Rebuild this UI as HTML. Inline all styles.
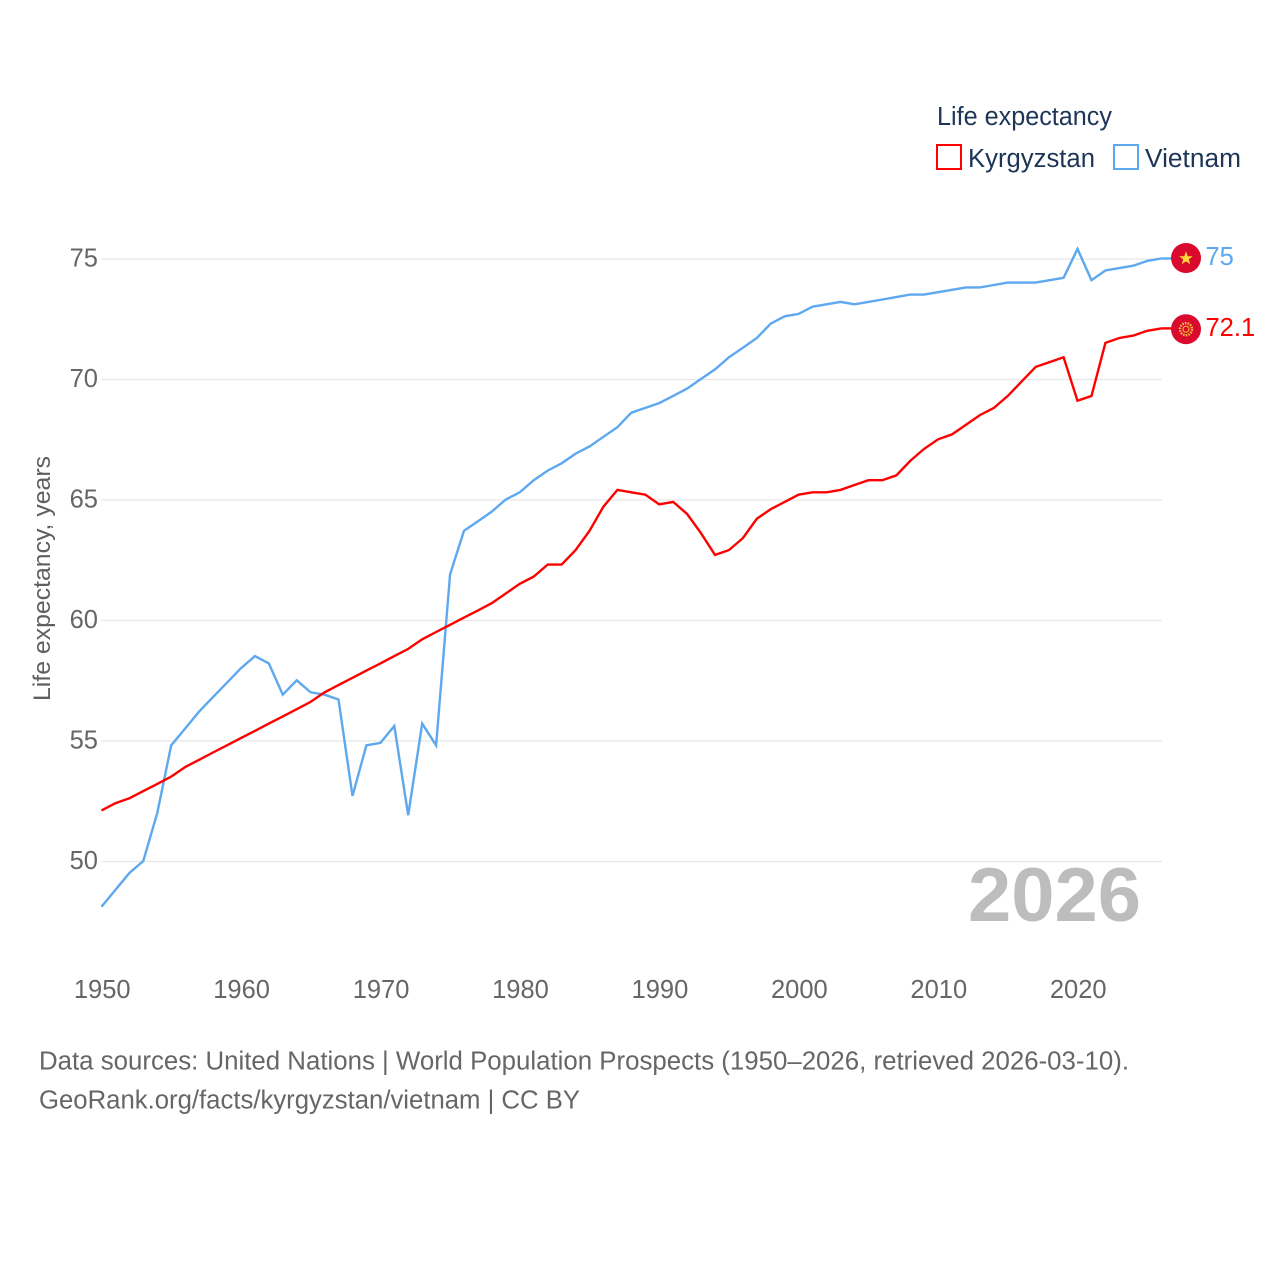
<!DOCTYPE html>
<html lang="en">
<head>
<meta charset="utf-8">
<title>Life expectancy: Kyrgyzstan and Vietnam</title>
<style>
html,body{margin:0;padding:0;background:#fff;width:1280px;height:1280px;overflow:hidden}
svg{display:block}
text{font-family:"Liberation Sans",sans-serif}
</style>
</head>
<body>
<svg id="chart" xmlns="http://www.w3.org/2000/svg" width="1280" height="1280" viewBox="0 0 1280 1280">
  <rect width="1280" height="1280" fill="#ffffff"/>
  <g id="grid"></g>
  <g id="yticks"></g>
  <g id="xticks"></g>
  <text x="968" y="921" font-size="76" font-weight="700" fill="#bdbdbd" textLength="173" lengthAdjust="spacingAndGlyphs">2026</text>
  <text transform="translate(50 701) rotate(-90)" font-size="24" fill="#5f5f5f" textLength="245" lengthAdjust="spacingAndGlyphs">Life expectancy, years</text>
  <g id="series"></g>
  <g id="end-markers"></g>

  <g>
    <text x="937" y="125" font-size="25.5" fill="#1d3557" textLength="175" lengthAdjust="spacingAndGlyphs">Life expectancy</text>
    <g>
      <rect x="937" y="145" width="24" height="24" fill="#ffffff" stroke="#ff0000" stroke-width="2"/>
      <text x="968" y="167" font-size="25.5" fill="#1d3557" textLength="127" lengthAdjust="spacingAndGlyphs">Kyrgyzstan</text>
    </g>
    <g>
      <rect x="1114" y="145" width="24" height="24" fill="#ffffff" stroke="#5da8ee" stroke-width="2"/>
      <text x="1145" y="167" font-size="25.5" fill="#1d3557" textLength="96" lengthAdjust="spacingAndGlyphs">Vietnam</text>
    </g>
  </g>

  <text x="39" y="1069.5" font-size="25.5" fill="#666666" textLength="1090" lengthAdjust="spacingAndGlyphs">Data sources: United Nations | World Population Prospects (1950–2026, retrieved 2026-03-10).</text>
  <text x="39" y="1108.5" font-size="25.5" fill="#666666" textLength="541" lengthAdjust="spacingAndGlyphs">GeoRank.org/facts/kyrgyzstan/vietnam | CC BY</text>
</svg>

<script>
const years = [1950,1951,1952,1953,1954,1955,1956,1957,1958,1959,1960,1961,1962,1963,1964,1965,1966,1967,1968,1969,1970,1971,1972,1973,1974,1975,1976,1977,1978,1979,1980,1981,1982,1983,1984,1985,1986,1987,1988,1989,1990,1991,1992,1993,1994,1995,1996,1997,1998,1999,2000,2001,2002,2003,2004,2005,2006,2007,2008,2009,2010,2011,2012,2013,2014,2015,2016,2017,2018,2019,2020,2021,2022,2023,2024,2025,2026];
const kyrgyzstan = [52.1,52.4,52.6,52.9,53.2,53.5,53.9,54.2,54.5,54.8,55.1,55.4,55.7,56.0,56.3,56.6,57.0,57.3,57.6,57.9,58.2,58.5,58.8,59.2,59.5,59.8,60.1,60.4,60.7,61.1,61.5,61.8,62.3,62.3,62.9,63.7,64.7,65.4,65.3,65.2,64.8,64.9,64.4,63.6,62.7,62.9,63.4,64.2,64.6,64.9,65.2,65.3,65.3,65.4,65.6,65.8,65.8,66.0,66.6,67.1,67.5,67.7,68.1,68.5,68.8,69.3,69.9,70.5,70.7,70.9,69.1,69.3,71.5,71.7,71.8,72.0,72.1];
const vietnam = [48.1,48.8,49.5,50.0,52.0,54.8,55.5,56.2,56.8,57.4,58.0,58.5,58.2,56.9,57.5,57.0,56.9,56.7,52.7,54.8,54.9,55.6,51.9,55.7,54.8,61.9,63.7,64.1,64.5,65.0,65.3,65.8,66.2,66.5,66.9,67.2,67.6,68.0,68.6,68.8,69.0,69.3,69.6,70.0,70.4,70.9,71.3,71.7,72.3,72.6,72.7,73.0,73.1,73.2,73.1,73.2,73.3,73.4,73.5,73.5,73.6,73.7,73.8,73.8,73.9,74.0,74.0,74.0,74.1,74.2,75.4,74.1,74.5,74.6,74.7,74.9,75.0];
const yTickValues = [50,55,60,65,70,75];
const xTickValues = [1950,1960,1970,1980,1990,2000,2010,2020];
const kyrgyzstanEndLabel = "72.1";
const vietnamEndLabel = "75";

const NS = 'http://www.w3.org/2000/svg';
const xScale = function (year) { return 101.5 + (year - 1950) * 13.943; };
const yScale = function (value) { return 861 - (value - 50) * 24.1; };

function svgEl(tag, parent, attrs) {
  const el = document.createElementNS(NS, tag);
  for (const key in attrs) { el.setAttribute(key, attrs[key]); }
  parent.appendChild(el);
  return el;
}

const grid = document.getElementById('grid');
const yticks = document.getElementById('yticks');
yTickValues.forEach(function (v) {
  const gridline = svgEl('line', grid, {x1: 101.5, x2: 1162, y1: yScale(v) + 0.5, y2: yScale(v) + 0.5, stroke: '#e6e6e6', 'stroke-width': 1.3});
  
  
  const label = svgEl('text', yticks, {x: 98, y: yScale(v) + 8, 'text-anchor': 'end', 'font-size': 25.5, fill: '#666666'});
  
  
  label.textContent = String(v);
});

const xticks = document.getElementById('xticks');
xTickValues.forEach(function (year) {
  const label = svgEl('text', xticks, {x: xScale(year) + 0.7, y: 998, 'text-anchor': 'middle', 'font-size': 25.5, fill: '#666666'});
  
  
  label.textContent = String(year);
});

function linePoints(values) {
  return values.map(function (v, i) { return xScale(years[i]).toFixed(1) + ',' + yScale(v).toFixed(1); }).join(' ');
}
const series = document.getElementById('series');

const lineVietnam = svgEl('polyline', series, {points: linePoints(vietnam), fill: 'none', stroke: '#5da8ee', 'stroke-width': 2.4, 'stroke-linejoin': 'miter'});



const lineKyrgyzstan = svgEl('polyline', series, {points: linePoints(kyrgyzstan), fill: 'none', stroke: '#ff0000', 'stroke-width': 2.4, 'stroke-linejoin': 'miter'});



const markers = document.getElementById('end-markers');
const lastX = xScale(years[years.length - 1]);
const vY = yScale(vietnam[vietnam.length - 1]);
const kY = yScale(kyrgyzstan[kyrgyzstan.length - 1]);

const connV = svgEl('line', markers, {x1: lastX, x2: 1172, y1: vY, y2: vY, stroke: '#5da8ee', 'stroke-width': 2.4});


const connK = svgEl('line', markers, {x1: lastX, x2: 1172, y1: kY, y2: kY, stroke: '#ff0000', 'stroke-width': 2.4});



const flagV = svgEl('circle', markers, {cx: 1186, cy: vY - 0.5, r: 15, fill: '#da0a2e'});


const starPts = [];
for (let i = 0; i < 10; i++) {
  const r = i % 2 === 0 ? 7.2 : 2.9;
  const a = -Math.PI / 2 + i * Math.PI / 5;
  starPts.push((1186 + r * Math.cos(a)).toFixed(1) + ',' + (vY + r * Math.sin(a)).toFixed(1));
}
const star = svgEl('polygon', markers, {points: starPts.join(' '), fill: '#fdd835'});



const flagK = svgEl('circle', markers, {cx: 1186, cy: kY + 0.8, r: 15, fill: '#da0a2e'});


const sunRays = svgEl('circle', markers, {cx: 1186, cy: kY + 0.8, r: 6, fill: 'none', stroke: '#f6c83c', 'stroke-width': 2.4, 'stroke-dasharray': '1.5 1.2'});


const sunCore = svgEl('circle', markers, {cx: 1186, cy: kY + 0.8, r: 3, fill: 'none', stroke: '#f6c83c', 'stroke-width': 1});



const labelV = svgEl('text', markers, {x: 1205.5, y: vY + 6.5, 'font-size': 25.5, fill: '#5da8ee'});


labelV.textContent = vietnamEndLabel;

const labelK = svgEl('text', markers, {x: 1205.5, y: kY + 7.5, 'font-size': 25.5, fill: '#ff0000'});


labelK.textContent = kyrgyzstanEndLabel;
</script>
</body>
</html>
